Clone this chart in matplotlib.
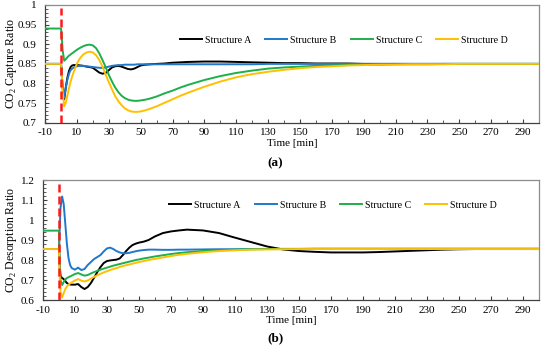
import matplotlib
matplotlib.use("Agg")
import matplotlib.pyplot as plt
from matplotlib.ticker import MultipleLocator

plt.rcParams['font.family'] = ['Liberation Serif', 'DejaVu Serif']
plt.rcParams['mathtext.fontset'] = 'custom'
plt.rcParams['mathtext.rm'] = 'Liberation Serif'
plt.rcParams['axes.unicode_minus'] = False

# shared time grid [min]
time = [-10, 0, 0.5, 1, 2, 3, 4, 5, 6, 7, 8,
        10, 12, 14, 16, 18, 20, 22, 24, 26, 28,
        30, 32, 34, 36, 38, 40, 42, 44, 46, 48,
        50, 53, 56, 60, 65, 70, 75, 80, 90, 100,
        110, 120, 130, 140, 150, 160, 170, 180, 190, 200,
        210, 220, 230, 240, 250, 260, 270, 280, 290, 300]

labels = ["Structure A", "Structure B", "Structure C", "Structure D"]
colors = ["#000000", "#1F78CC", "#1DB04A", "#FFC000"]

# (a) CO2 capture ratio
cap_a = [0.85, 0.85, 0.82, 0.79, 0.76, 0.79, 0.815, 0.832, 0.842, 0.846, 0.847,
         0.847, 0.846, 0.845, 0.843, 0.842, 0.840, 0.834, 0.828, 0.825, 0.827,
         0.834, 0.841, 0.844, 0.845, 0.843, 0.840, 0.837, 0.836, 0.838, 0.842,
         0.846, 0.848, 0.849, 0.850, 0.851, 0.853, 0.854, 0.855, 0.856, 0.856,
         0.855, 0.854, 0.853, 0.852, 0.852, 0.851, 0.851, 0.851, 0.850, 0.850,
         0.850, 0.850, 0.850, 0.850, 0.850, 0.850, 0.850, 0.850, 0.850, 0.850]
cap_b = [0.85, 0.85, 0.82, 0.79, 0.765, 0.79, 0.81, 0.825, 0.834, 0.838, 0.841,
         0.844, 0.845, 0.845, 0.844, 0.843, 0.842, 0.841, 0.840, 0.840, 0.841,
         0.843, 0.845, 0.846, 0.847, 0.847, 0.848, 0.848, 0.848, 0.848, 0.849,
         0.849, 0.849, 0.849, 0.849, 0.849, 0.849, 0.849, 0.849, 0.849, 0.849,
         0.849, 0.849, 0.850, 0.850, 0.850, 0.850, 0.850, 0.850, 0.850, 0.850,
         0.850, 0.850, 0.850, 0.850, 0.850, 0.850, 0.850, 0.850, 0.850, 0.850]
cap_c = [0.94, 0.94, 0.915, 0.885, 0.858, 0.862, 0.867, 0.871, 0.874, 0.877, 0.880,
         0.886, 0.891, 0.895, 0.898, 0.899, 0.897, 0.890, 0.877, 0.860, 0.842,
         0.822, 0.805, 0.790, 0.778, 0.769, 0.763, 0.759, 0.757, 0.756, 0.756,
         0.757, 0.759, 0.762, 0.767, 0.775, 0.782, 0.790, 0.797, 0.809, 0.819,
         0.827, 0.833, 0.838, 0.841, 0.843, 0.845, 0.846, 0.847, 0.848, 0.848,
         0.849, 0.849, 0.849, 0.850, 0.850, 0.850, 0.850, 0.850, 0.850, 0.850]
cap_d = [0.85, 0.85, 0.82, 0.78, 0.742, 0.752, 0.770, 0.788, 0.805, 0.818, 0.830,
         0.851, 0.865, 0.874, 0.879, 0.881, 0.879, 0.872, 0.860, 0.843, 0.823,
         0.803, 0.785, 0.768, 0.755, 0.745, 0.737, 0.732, 0.729, 0.728, 0.728,
         0.729, 0.732, 0.736, 0.742, 0.751, 0.760, 0.769, 0.777, 0.792, 0.805,
         0.816, 0.824, 0.830, 0.835, 0.839, 0.842, 0.844, 0.846, 0.847, 0.848,
         0.848, 0.849, 0.849, 0.849, 0.850, 0.850, 0.850, 0.850, 0.850, 0.850]

# (b) CO2 desorption ratio
des_a = [0.855, 0.855, 0.77, 0.72, 0.71, 0.705, 0.695, 0.685, 0.680, 0.678, 0.677,
         0.677, 0.680, 0.665, 0.655, 0.665, 0.685, 0.712, 0.740, 0.765, 0.785,
         0.795, 0.798, 0.800, 0.802, 0.808, 0.825, 0.845, 0.862, 0.875, 0.882,
         0.887, 0.892, 0.900, 0.918, 0.935, 0.943, 0.948, 0.952, 0.948, 0.935,
         0.912, 0.890, 0.868, 0.853, 0.845, 0.841, 0.838, 0.838, 0.838, 0.840,
         0.843, 0.846, 0.849, 0.852, 0.854, 0.855, 0.855, 0.855, 0.855, 0.855]
des_b = [0.855, 0.855, 0.95, 1.06, 1.118, 1.08, 0.98, 0.88, 0.81, 0.775, 0.760,
         0.752, 0.762, 0.750, 0.755, 0.775, 0.790, 0.805, 0.815, 0.825, 0.843,
         0.858, 0.862, 0.855, 0.845, 0.838, 0.834, 0.834, 0.836, 0.840, 0.844,
         0.847, 0.850, 0.852, 0.852, 0.851, 0.851, 0.852, 0.852, 0.853, 0.854,
         0.854, 0.855, 0.855, 0.855, 0.855, 0.855, 0.855, 0.855, 0.855, 0.855,
         0.855, 0.855, 0.855, 0.855, 0.855, 0.855, 0.855, 0.855, 0.855, 0.855]
des_c = [0.947, 0.947, 0.80, 0.70, 0.675, 0.690, 0.703, 0.710, 0.714, 0.718, 0.722,
         0.730, 0.735, 0.728, 0.722, 0.725, 0.733, 0.740, 0.746, 0.752, 0.757,
         0.762, 0.767, 0.772, 0.776, 0.780, 0.784, 0.788, 0.792, 0.796, 0.800,
         0.803, 0.808, 0.812, 0.818, 0.824, 0.830, 0.835, 0.839, 0.845, 0.849,
         0.852, 0.854, 0.855, 0.856, 0.856, 0.857, 0.857, 0.857, 0.857, 0.857,
         0.857, 0.857, 0.857, 0.857, 0.857, 0.857, 0.857, 0.857, 0.857, 0.857]
des_d = [0.855, 0.855, 0.72, 0.64, 0.612, 0.635, 0.655, 0.668, 0.677, 0.683, 0.688,
         0.698, 0.705, 0.697, 0.693, 0.698, 0.707, 0.716, 0.724, 0.731, 0.738,
         0.744, 0.750, 0.755, 0.760, 0.765, 0.770, 0.774, 0.778, 0.782, 0.786,
         0.790, 0.795, 0.800, 0.806, 0.813, 0.820, 0.826, 0.831, 0.839, 0.845,
         0.849, 0.852, 0.853, 0.854, 0.855, 0.855, 0.855, 0.855, 0.855, 0.855,
         0.855, 0.855, 0.855, 0.855, 0.855, 0.855, 0.855, 0.855, 0.855, 0.855]

x_ticks = list(range(-10, 300, 20))

fig = plt.figure(figsize=(5.5, 3.53), dpi=100)
ax1 = fig.add_axes([0.082, 0.652, 0.898, 0.334])
ax2 = fig.add_axes([0.078, 0.150, 0.902, 0.340])


def style_axis(ax, ylim, ymajor, yminor, ylabel, label_x, leg_pos):
    ax.set_xlim(-10, 300)
    ax.set_ylim(*ylim)
    ax.set_xticks(x_ticks)
    ax.xaxis.set_minor_locator(MultipleLocator(10))
    ax.yaxis.set_major_locator(MultipleLocator(ymajor))
    ax.yaxis.set_minor_locator(MultipleLocator(yminor))
    ax.tick_params(which='both', direction='in', colors='#404040',
                   labelcolor='black')
    ax.tick_params(axis='x', labelsize=8, pad=4)
    ax.tick_params(axis='y', labelsize=8, pad=6)
    ax.tick_params(which='major', length=3, width=0.8)
    ax.tick_params(which='minor', length=2, width=0.6)
    ax.yaxis.set_major_formatter(plt.FuncFormatter(lambda v, p: f"{v:g}"))
    for side in ['top', 'right']:
        ax.spines[side].set_color('#8c8c8c')
    for side in ['left', 'bottom']:
        ax.spines[side].set_color('#404040')
    for s in ax.spines.values():
        s.set_linewidth(0.9)
    ax.set_xlabel("Time [min]", fontsize=8, labelpad=1)
    ax.set_ylabel(ylabel, fontsize=8.5, va='center', ha='center')
    ax.yaxis.set_label_coords(label_x, 0.5)
    ax.axvline(0, ymin=0, ymax=0.97, color='#FF1A1A', linestyle=(0, (3.2, 1.6)),
               linewidth=1.8, zorder=5)
    ax.legend(loc='center', bbox_to_anchor=leg_pos, ncol=4, frameon=False,
              fontsize=7.2, handlelength=2.2, handletextpad=0.3,
              columnspacing=1.4)


for vals, lab, col in zip([cap_a, cap_b, cap_c, cap_d], labels, colors):
    ax1.plot(time, vals, color=col, linewidth=1.4, label=lab, zorder=3)
for vals, lab, col in zip([des_a, des_b, des_c, des_d], labels, colors):
    ax2.plot(time, vals, color=col, linewidth=1.4, label=lab, zorder=3)

style_axis(ax1, (0.7, 1.0), 0.05, 0.01, r"CO$_\mathregular{2}$ Capture Ratio",
           -0.068, (0.605, 0.70))
style_axis(ax2, (0.6, 1.2), 0.1, 0.02, r"CO$_\mathregular{2}$ Desorption Ratio",
           -0.063, (0.585, 0.79))

fig.text(0.5, 0.538, "(a)", ha='center', va='center', fontsize=9.5,
         fontweight='bold')
fig.text(0.5, 0.043, "(b)", ha='center', va='center', fontsize=9.5,
         fontweight='bold')

fig.savefig("out.png", dpi=100)
